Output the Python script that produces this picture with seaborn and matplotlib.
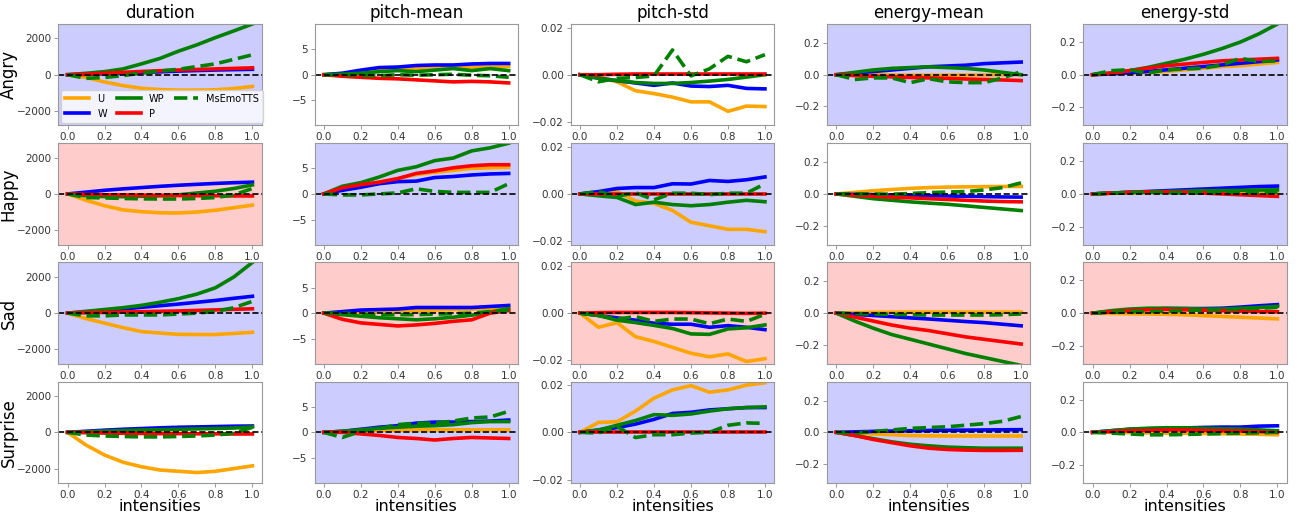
import numpy as np
import matplotlib
matplotlib.use("Agg")
import matplotlib.pyplot as plt
import seaborn as sns

intensities = [0.0, 0.1, 0.2, 0.3, 0.4, 0.5, 0.6, 0.7, 0.8, 0.9, 1.0]
emotions = ["Angry", "Happy", "Sad", "Surprise"]
features = ["duration", "pitch-mean", "pitch-std", "energy-mean", "energy-std"]
models = ["U", "W", "WP", "P", "MsEmoTTS"]

# each block: rows are U, W, WP, P, MsEmoTTS
angry_duration = [
    [0, -150, -400, -600, -750, -820, -850, -850, -830, -760, -650],
    [0, 20, 50, 80, 120, 160, 200, 230, 260, 280, 300],
    [0, 80, 170, 320, 600, 900, 1300, 1650, 2050, 2420, 2800],
    [0, 30, 80, 130, 180, 220, 260, 290, 320, 350, 380],
    [0, -200, -150, -50, 100, 200, 300, 450, 600, 850, 1100],
]
angry_pitch_mean = [
    [0, 0.2, 0.5, 0.8, 1.0, 1.2, 1.3, 1.4, 1.5, 1.6, 1.6],
    [0, 0.3, 0.9, 1.4, 1.5, 1.8, 1.9, 1.9, 2.1, 2.2, 2.2],
    [0, 0.1, 0.3, 0.6, 0.8, 0.6, 0.9, 1.2, 0.8, 1.2, 0.8],
    [0, -0.3, -0.5, -0.7, -0.8, -1.0, -1.2, -1.4, -1.3, -1.4, -1.6],
    [0, 0, -0.1, -0.2, 0, -0.1, 0, 0.1, -0.1, -0.2, -0.5],
]
angry_pitch_std = [
    [0, -0.001, -0.003, -0.0068, -0.008, -0.0095, -0.0115, -0.0115, -0.0155, -0.0133, -0.0135],
    [0, -0.0015, -0.0025, -0.0035, -0.0045, -0.0035, -0.0048, -0.005, -0.0045, -0.0058, -0.006],
    [0, -0.0015, -0.0025, -0.0033, -0.0037, -0.0037, -0.0033, -0.0027, -0.002, -0.001, 0],
    [0, 0, 0.0002, 0.0003, 0.0003, 0.0003, 0.0003, 0.0003, 0.0003, 0.0003, 0.0003],
    [0, -0.003, -0.0015, -0.0012, -0.0005, 0.0105, -0.0005, 0.0025, 0.0078, 0.0055, 0.0085],
]
angry_energy_mean = [
    [0, 0, 0, -0.002, -0.003, -0.003, -0.003, -0.002, -0.002, -0.001, 0.0],
    [0, 0.01, 0.02, 0.03, 0.04, 0.05, 0.055, 0.06, 0.07, 0.075, 0.08],
    [0, 0.015, 0.03, 0.04, 0.045, 0.05, 0.045, 0.04, 0.03, 0.015, 0.0],
    [0, -0.005, -0.01, -0.013, -0.017, -0.02, -0.023, -0.027, -0.03, -0.033, -0.037],
    [0, -0.03, -0.02, -0.02, -0.05, -0.025, -0.045, -0.05, -0.05, -0.02, 0.02],
]
angry_energy_std = [
    [0, 0.005, 0.01, 0.015, 0.02, 0.03, 0.04, 0.05, 0.055, 0.065, 0.075],
    [0, 0.005, 0.012, 0.02, 0.03, 0.04, 0.05, 0.06, 0.07, 0.08, 0.09],
    [0, 0.01, 0.025, 0.045, 0.07, 0.095, 0.125, 0.16, 0.2, 0.25, 0.31],
    [0, 0.01, 0.025, 0.04, 0.055, 0.065, 0.075, 0.085, 0.09, 0.095, 0.1],
    [0, 0.025, 0.03, 0.01, 0.03, 0.035, 0.04, 0.06, 0.1, 0.08, 0.085],
]
happy_duration = [
    [0, -350, -650, -880, -980, -1040, -1050, -1000, -900, -760, -620],
    [0, 100, 200, 280, 350, 420, 480, 530, 580, 620, 650],
    [0, -100, -150, -150, -130, -100, -50, 50, 150, 300, 500],
    [0, -30, -50, -60, -70, -80, -90, -100, -100, -110, -110],
    [0, -200, -220, -250, -270, -280, -280, -250, -200, -50, 300],
]
happy_pitch_mean = [
    [0, 1.0, 1.7, 2.3, 3.0, 3.8, 4.2, 4.6, 5.0, 5.1, 5.2],
    [0, 0.7, 1.3, 2.0, 2.4, 2.5, 3.2, 3.4, 3.7, 3.9, 4.0],
    [0, 1.5, 2.2, 3.3, 4.6, 5.3, 6.5, 7.0, 8.4, 9.0, 9.9],
    [0, 1.2, 1.8, 2.3, 3.0, 4.0, 4.5, 5.1, 5.5, 5.7, 5.7],
    [0, -0.2, -0.2, 0, 0.2, 1.0, 0.5, 0.3, 0.3, 0.3, 2.0],
]
happy_pitch_std = [
    [0, 0.0005, 0.001, -0.003, -0.004, -0.007, -0.012, -0.0135, -0.015, -0.015, -0.016],
    [0, 0.001, 0.0023, 0.0027, 0.0027, 0.0043, 0.0042, 0.0057, 0.0053, 0.006, 0.0072],
    [0, -0.0008, -0.0015, -0.0045, -0.0035, -0.0045, -0.005, -0.0045, -0.0035, -0.0027, -0.0033],
    [0, 0, 0, 0, 0, 0, 0, 0, 0, 0, 0],
    [0, 0.001, -0.001, 0.0005, -0.0025, 0.0003, 0.0003, -0.0003, 0.0003, 0.0003, 0.0043],
]
happy_energy_mean = [
    [0, 0.01, 0.02, 0.028, 0.035, 0.04, 0.043, 0.045, 0.046, 0.047, 0.047],
    [0, -0.003, -0.005, -0.007, -0.009, -0.011, -0.013, -0.015, -0.017, -0.019, -0.02],
    [0, -0.015, -0.03, -0.04, -0.05, -0.058, -0.065, -0.075, -0.085, -0.095, -0.105],
    [0, -0.008, -0.015, -0.02, -0.025, -0.03, -0.035, -0.04, -0.045, -0.048, -0.05],
    [0, 0, 0, -0.002, 0.003, 0.008, 0.012, 0.015, 0.025, 0.04, 0.07],
]
happy_energy_std = [
    [0, 0.003, 0.006, 0.008, 0.01, 0.012, 0.013, 0.014, 0.015, 0.015, 0.015],
    [0, 0.005, 0.01, 0.015, 0.02, 0.025, 0.03, 0.035, 0.04, 0.045, 0.048],
    [0, 0.005, 0.01, 0.013, 0.015, 0.017, 0.02, 0.02, 0.022, 0.024, 0.025],
    [0, 0.005, 0.01, 0.012, 0.012, 0.01, 0.005, 0.0, -0.005, -0.01, -0.015],
    [0, 0.005, 0.008, 0.01, 0.008, 0.005, 0.008, 0.01, 0.008, 0.007, 0.01],
]
sad_duration = [
    [0, -300, -550, -800, -1020, -1100, -1170, -1180, -1180, -1120, -1060],
    [0, 70, 150, 230, 320, 410, 500, 600, 700, 820, 930],
    [0, 100, 200, 300, 430, 600, 800, 1050, 1400, 2000, 2800],
    [0, 20, 40, 60, 80, 100, 120, 150, 180, 210, 240],
    [0, -150, -150, -100, -100, -100, -50, 0, 100, 300, 650],
]
sad_pitch_mean = [
    [0, 0.1, 0.2, 0.3, 0.4, 0.5, 0.6, 0.7, 0.8, 0.9, 1.0],
    [0, 0.3, 0.6, 0.7, 0.8, 1.1, 1.1, 1.1, 1.1, 1.3, 1.5],
    [0, -0.3, -0.6, -0.9, -1.1, -1.3, -1.1, -0.8, -0.4, 0.2, 0.9],
    [0, -1.2, -1.9, -2.2, -2.5, -2.3, -2.0, -1.6, -1.3, 0.0, 0.5],
    [0, 0, -0.2, -0.3, -0.3, -0.3, -0.2, -0.1, 0, 0.3, 0.6],
]
sad_pitch_std = [
    [0, -0.006, -0.004, -0.01, -0.012, -0.0145, -0.017, -0.0185, -0.0173, -0.0205, -0.0193],
    [0, -0.001, -0.002, -0.003, -0.0043, -0.0047, -0.0047, -0.006, -0.0053, -0.006, -0.007],
    [0, -0.001, -0.003, -0.004, -0.0052, -0.0065, -0.0088, -0.009, -0.0067, -0.0062, -0.005],
    [0, 0.0002, 0.0003, 0.0003, 0.0003, 0.0003, 0.0002, 0.0001, 0, -0.0001, 0],
    [0, -0.001, -0.0025, -0.0015, -0.0035, -0.0025, -0.0025, -0.0045, -0.0025, -0.0035, -0.0005],
]
sad_energy_mean = [
    [0, 0.003, 0.005, 0.006, 0.007, 0.007, 0.007, 0.007, 0.007, 0.007, 0.007],
    [0, -0.008, -0.015, -0.022, -0.03, -0.037, -0.045, -0.053, -0.06, -0.07, -0.08],
    [0, -0.05, -0.095, -0.135, -0.165, -0.195, -0.225, -0.255, -0.28, -0.305, -0.33],
    [0, -0.025, -0.05, -0.075, -0.095, -0.11, -0.13, -0.15, -0.165, -0.18, -0.195],
    [0, -0.003, -0.005, -0.008, -0.01, -0.012, -0.012, -0.012, -0.012, -0.01, -0.005],
]
sad_energy_std = [
    [0, -0.002, -0.004, -0.005, -0.007, -0.01, -0.015, -0.02, -0.025, -0.03, -0.035],
    [0, 0.01, 0.02, 0.025, 0.028, 0.028, 0.028, 0.03, 0.037, 0.045, 0.052],
    [0, 0.015, 0.025, 0.03, 0.03, 0.028, 0.025, 0.025, 0.03, 0.035, 0.042],
    [0, 0.008, 0.015, 0.02, 0.022, 0.02, 0.018, 0.015, 0.012, 0.01, 0.008],
    [0, 0.005, 0.008, 0.01, 0.012, 0.015, 0.02, 0.022, 0.025, 0.03, 0.035],
]
surprise_duration = [
    [0, -700, -1250, -1650, -1900, -2080, -2150, -2220, -2150, -2000, -1850],
    [0, 60, 120, 170, 210, 250, 280, 300, 320, 340, 350],
    [0, 30, 70, 100, 130, 150, 170, 190, 210, 240, 300],
    [0, -20, -40, -50, -60, -70, -70, -80, -80, -90, -90],
    [0, -150, -200, -230, -250, -250, -230, -200, -150, -50, 280],
]
surprise_pitch_mean = [
    [0, 0.2, 0.4, 0.4, 0.4, 0.5, 0.5, 0.5, 0.5, 0.5, 0.5],
    [0, 0.2, 0.6, 1.0, 1.3, 1.8, 2.0, 2.0, 2.1, 2.2, 2.4],
    [0, 0.2, 0.5, 0.8, 1.0, 1.2, 1.3, 1.5, 1.9, 2.1, 2.1],
    [0, 0, -0.3, -0.6, -1.0, -1.2, -1.5, -1.2, -1.0, -1.1, -1.2],
    [0, -1.0, 0.2, 0.7, 1.5, 1.8, 1.8, 2.2, 2.8, 3.0, 4.1],
]
surprise_pitch_std = [
    [0, 0.0042, 0.0045, 0.009, 0.0145, 0.018, 0.0198, 0.017, 0.018, 0.02, 0.021],
    [0, 0.001, 0.002, 0.0035, 0.0055, 0.008, 0.0085, 0.0095, 0.01, 0.0105, 0.0105],
    [0, 0.001, 0.003, 0.005, 0.0075, 0.0072, 0.0078, 0.009, 0.01, 0.0105, 0.0108],
    [0, 0, 0, 0, 0, 0, 0, 0, 0, 0, 0],
    [0, -0.0003, 0.0025, -0.0022, -0.001, -0.001, -0.0003, 0.0, 0.003, 0.004, 0.0038],
]
surprise_energy_mean = [
    [0, -0.005, -0.01, -0.015, -0.02, -0.022, -0.023, -0.023, -0.023, -0.023, -0.023],
    [0, 0.003, 0.006, 0.008, 0.01, 0.012, 0.013, 0.014, 0.015, 0.016, 0.017],
    [0, -0.02, -0.04, -0.06, -0.075, -0.085, -0.093, -0.097, -0.1, -0.1, -0.1],
    [0, -0.02, -0.045, -0.065, -0.085, -0.1, -0.108, -0.112, -0.114, -0.114, -0.113],
    [0, -0.005, 0.005, 0.015, 0.025, 0.03, 0.035, 0.045, 0.055, 0.07, 0.1],
]
surprise_energy_std = [
    [0, 0, -0.002, -0.003, -0.005, -0.006, -0.007, -0.008, -0.01, -0.012, -0.015],
    [0, 0.01, 0.018, 0.022, 0.025, 0.027, 0.03, 0.032, 0.032, 0.038, 0.04],
    [0, 0.01, 0.02, 0.025, 0.028, 0.028, 0.025, 0.022, 0.02, 0.015, 0.01],
    [0, 0.005, 0.01, 0.012, 0.015, 0.015, 0.012, 0.01, 0.008, 0.005, 0.0],
    [0, -0.005, -0.01, -0.015, -0.015, -0.013, -0.01, -0.008, -0.005, -0.003, 0],
]

grid = [
    [angry_duration, angry_pitch_mean, angry_pitch_std, angry_energy_mean, angry_energy_std],
    [happy_duration, happy_pitch_mean, happy_pitch_std, happy_energy_mean, happy_energy_std],
    [sad_duration, sad_pitch_mean, sad_pitch_std, sad_energy_mean, sad_energy_std],
    [surprise_duration, surprise_pitch_mean, surprise_pitch_std, surprise_energy_mean, surprise_energy_std],
]

# expected direction of change: +1 increase, -1 decrease, 0 none
direction = [
    [1, 0, 0, 1, 1],
    [-1, 1, 1, 0, 1],
    [1, -1, -1, -1, -1],
    [0, 1, 1, 1, 0],
]
ylims = [2800, 9.9, 0.0215, 0.32, 0.31]

colors = ["orange", "blue", "green", "red", "green"]
styles = ["-", "-", "-", "-", "--"]
bg = {1: (0.8, 0.8, 1.0), -1: (1.0, 0.8, 0.8), 0: "white"}

fig, axes = plt.subplots(4, 5, figsize=(13.01, 5.15), dpi=100)
fig.subplots_adjust(left=0.0448, right=0.989, top=0.9534, bottom=0.062,
                    wspace=0.26, hspace=0.175)

for i, emo in enumerate(emotions):
    for j, feat in enumerate(features):
        ax = axes[i, j]
        ax.set_facecolor(bg[direction[i][j]])
        for k, m in enumerate(models):
            sns.lineplot(x=intensities, y=grid[i][j][k], ax=ax, color=colors[k],
                         linestyle=styles[k], linewidth=2.6, label=m, legend=False)
        ax.axhline(0, color="black", linestyle="--", linewidth=1.2)
        ax.set_ylim(-ylims[j], ylims[j])
        ax.set_xticks([0.0, 0.2, 0.4, 0.6, 0.8, 1.0])
        ax.tick_params(labelsize=7.5, colors="#333333", length=3, width=0.6, pad=2)
        ax.tick_params(color="#888888")
        for s in ax.spines.values():
            s.set_color("#999999")
        ax.set_xlabel("intensities" if i == 3 else "", fontsize=11.5, labelpad=-0.5)
        ax.set_ylabel(emo if j == 0 else "", fontsize=12, labelpad=0)
        if i == 0:
            ax.set_title(feat, fontsize=12, pad=4)

for ax in axes[:, 0]:
    ax.yaxis.set_label_coords(-0.2, 0.5)

axes[0, 0].legend(loc="lower left", ncol=3, fontsize=7, handlelength=2.5,
                  columnspacing=1.0, borderaxespad=0.3)

fig.savefig("out.png", dpi=100)
